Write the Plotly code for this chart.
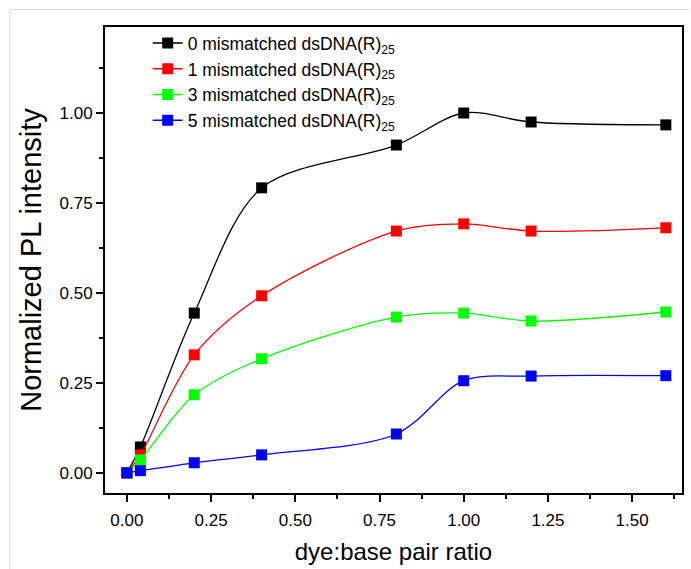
import plotly.graph_objects as go

ratio = [0.0, 0.04, 0.2, 0.4, 0.8, 1.0, 1.2, 1.6]
mm0 = [0.0, 0.072, 0.444, 0.792, 0.911, 1.0, 0.975, 0.967]
mm1 = [0.0, 0.05, 0.328, 0.492, 0.672, 0.692, 0.672, 0.681]
mm3 = [0.0, 0.036, 0.217, 0.317, 0.433, 0.444, 0.422, 0.447]
mm5 = [0.0, 0.006, 0.028, 0.05, 0.108, 0.256, 0.269, 0.27]
names = ["0 mismatched dsDNA(R)<sub>25</sub>", "1 mismatched dsDNA(R)<sub>25</sub>",
         "3 mismatched dsDNA(R)<sub>25</sub>", "5 mismatched dsDNA(R)<sub>25</sub>"]
colors = ["#000000", "#FF0000", "#00FF00", "#0000FF"]
series = [mm0, mm1, mm3, mm5]

fig = go.Figure()
for name, col, ys in zip(names, colors, series):
    fig.add_trace(go.Scatter(
        x=ratio, y=ys, name=name, mode="lines+markers",
        line=dict(color=col, width=1.3, shape="spline", smoothing=0.9),
        marker=dict(symbol="square", size=11, color=col),
    ))

font = "Liberation Sans, Arial, sans-serif"
fig.update_layout(
    width=691, height=569,
    margin=dict(l=105, r=7, t=27, b=76),
    plot_bgcolor="white", paper_bgcolor="white",
    font=dict(family=font, size=17, color="black"),
    showlegend=True,
    legend=dict(x=0.074, y=1.004, xanchor="left", yanchor="top",
                bgcolor="rgba(0,0,0,0)", font=dict(size=17.5), tracegroupgap=0),
    xaxis=dict(range=[-0.065, 1.648], tickvals=[0, 0.25, 0.5, 0.75, 1.0, 1.25, 1.5],
               ticktext=["0.00", "0.25", "0.50", "0.75", "1.00", "1.25", "1.50"],
               ticks="outside", ticklen=7, tickwidth=1.5, tickcolor="black",
               ticklabelstandoff=4,
               minor=dict(dtick=0.125, tick0=0, ticks="outside", ticklen=4, tickwidth=1.5, tickcolor="black"),
               showline=True, linecolor="black", linewidth=2, mirror=True,
               showgrid=False, zeroline=False,
               title=dict(text="dye:base pair ratio", font=dict(size=24), standoff=14),
               tickfont=dict(size=17)),
    yaxis=dict(range=[-0.056, 1.239], tickvals=[0, 0.25, 0.5, 0.75, 1.0],
               ticktext=["0.00", "0.25", "0.50", "0.75", "1.00"],
               ticks="outside", ticklen=7, tickwidth=1.5, tickcolor="black",
               minor=dict(dtick=0.125, tick0=0, ticks="outside", ticklen=4, tickwidth=1.5, tickcolor="black"),
               showline=True, linecolor="black", linewidth=2, mirror=True,
               showgrid=False, zeroline=False,
               title=dict(text="Normalized PL intensity", font=dict(size=29), standoff=9),
               tickfont=dict(size=17)),
)

# light outer border of the original image
fig.add_shape(type="line", xref="paper", yref="paper", x0=(9.5 - 105) / 579, x1=(9.5 - 105) / 579,
              y0=(493 - 9.5) / 466, y1=(493 - 569) / 466, line=dict(color="#dddddd", width=1))
fig.add_shape(type="line", xref="paper", yref="paper", x0=(9.5 - 105) / 579, x1=(691 - 105) / 579,
              y0=(493 - 9.5) / 466, y1=(493 - 9.5) / 466, line=dict(color="#dddddd", width=1))

fig.write_html("out.html")
